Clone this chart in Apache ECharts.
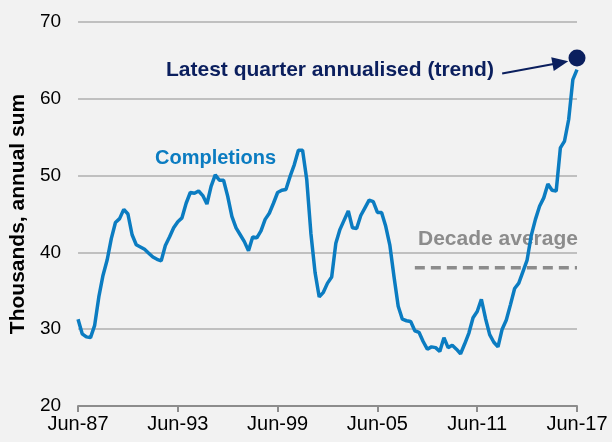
<!DOCTYPE html>
<html>
<head>
<meta charset="utf-8">
<script src="https://cdn.jsdelivr.net/npm/echarts@6/dist/echarts.min.js"></script>
<style>
  html, body { margin: 0; padding: 0; background: #f2f2f2; }
  #chart { width: 612px; height: 442px; }
</style>
</head>
<body>
<div id="chart"></div>
<script>
// quarterly categories, Jun-87 .. Jun-17
var months = ['Jun', 'Sep', 'Dec', 'Mar'];
var quarters = [];
for (var i = 0; i <= 120; i++) {
  var yr = 1987 + Math.floor((i + 1) / 4);
  quarters.push(months[i % 4] + '-' + String(yr).slice(2));
}

// dwelling completions, thousands, annual sum
var completions = [
  31.3, 29.4, 29.0, 28.9, 30.5, 34.2, 37.0, 39.0, 41.8, 43.9,
  44.4, 45.6, 45.0, 42.3, 41.0, 40.7, 40.4, 39.9, 39.4, 39.1,
  38.9, 40.9, 42.0, 43.2, 44.0, 44.5, 46.4, 47.8, 47.7, 48.0,
  47.4, 46.3, 48.6, 50.1, 49.4, 49.4, 47.3, 44.7, 43.2, 42.3,
  41.4, 40.2, 42.0, 41.9, 42.8, 44.3, 45.1, 46.4, 47.8, 48.1,
  48.2, 49.9, 51.4, 53.3, 53.3, 49.5, 42.5, 37.4, 34.2, 34.8,
  36.0, 36.8, 41.2, 43.0, 44.2, 45.4, 43.2, 43.1, 44.8, 45.8,
  46.8, 46.6, 45.2, 45.2, 43.4, 40.9, 36.8, 33.0, 31.3, 31.1,
  31.0, 29.8, 29.6, 28.4, 27.4, 27.7, 27.6, 27.1, 28.9, 27.6,
  27.9, 27.4, 26.8, 28.1, 29.5, 31.5, 32.3, 33.9, 31.4, 29.3,
  28.3, 27.7, 30.0, 31.2, 33.2, 35.3, 36.0, 37.5, 39.0, 42.2,
  44.3, 46.0, 47.1, 48.9, 48.1, 48.0, 53.6, 54.5, 57.3, 62.5,
  63.8
];

var decadeStart = 'Sep-07';
var decadeAvg = 38.0;
var latestQuarter = ['Jun-17', 65.3];
var yTicks = [20, 70, 10];

var startIdx = quarters.indexOf(decadeStart);
var decadeLine = quarters.map(function (q, i) { return i >= startIdx ? decadeAvg : null; });

var blue = '#0b7cc1';
var navy = '#0b1f5e';
var font = 'Liberation Sans, Arial, sans-serif';

var chart = echarts.init(document.getElementById('chart'));
chart.setOption({
  backgroundColor: '#f2f2f2',
  animation: false,
  grid: { left: 75, right: 35, top: 22, bottom: 36 },
  xAxis: {
    type: 'category',
    data: quarters,
    boundaryGap: false,
    axisLine: { lineStyle: { color: '#8c8c8c', width: 2 } },
    axisTick: { interval: 23, length: 6, lineStyle: { color: '#8c8c8c', width: 2 } },
    axisLabel: { interval: 23, color: '#000', fontSize: 20, fontFamily: font, margin: 8 }
  },
  yAxis: {
    type: 'value',
    min: yTicks[0],
    max: yTicks[1],
    interval: yTicks[2],
    name: 'Thousands, annual sum',
    nameLocation: 'middle',
    nameGap: 42,
    nameTextStyle: { color: '#000', fontSize: 21, fontWeight: 'bold', fontFamily: font },
    axisLine: { show: false },
    axisTick: { show: false },
    axisLabel: { color: '#000', fontSize: 19, fontFamily: font, margin: 17 },
    splitLine: { lineStyle: { color: '#c0c0c0', width: 2 } }
  },
  series: [
    {
      name: 'Completions',
      type: 'line',
      data: completions,
      symbol: 'none',
      lineStyle: { color: blue, width: 3.5 },
      z: 3
    },
    {
      name: 'Decade average',
      type: 'line',
      data: decadeLine,
      symbol: 'none',
      lineStyle: { color: '#8c8c8c', width: 3.5, type: [10, 6] },
      z: 2
    },
    {
      name: 'Latest quarter',
      type: 'scatter',
      data: [latestQuarter],
      symbolSize: 17,
      itemStyle: { color: navy, opacity: 1 },
      z: 4,
      markLine: {
        silent: true,
        symbol: ['none', 'triangle'],
        symbolSize: [14, 16],
        lineStyle: { color: navy, width: 2, type: 'solid' },
        label: { show: false },
        data: [[{ coord: [102, 63.3] }, { coord: [116, 64.7] }]]
      }
    }
  ],
  graphic: [
    {
      type: 'text', left: 155, top: 148,
      style: { text: 'Completions', fill: blue, font: 'bold 20px ' + font }
    },
    {
      type: 'text', left: 418, top: 229,
      style: { text: 'Decade average', fill: '#8c8c8c', font: 'bold 21px ' + font }
    },
    {
      type: 'text', left: 166, top: 60,
      style: { text: 'Latest quarter annualised (trend)', fill: navy, font: 'bold 21px ' + font }
    }
  ]
});
</script>
</body>
</html>
